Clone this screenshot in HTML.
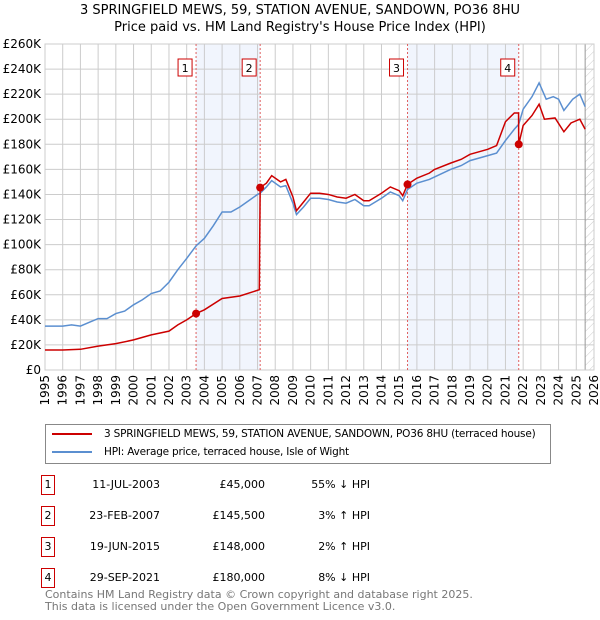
<!DOCTYPE html>
<html><head><meta charset="utf-8"><style>
body{margin:0;background:#fff;font-family:"DejaVu Sans","Liberation Sans",sans-serif;}
#wrap{position:relative;width:600px;height:620px;overflow:hidden;}
.t{position:absolute;font-size:12px;color:#000;white-space:nowrap;}
</style></head><body><div id="wrap">
<div class="t" style="left:0;width:600px;text-align:center;top:2px;font-size:13px;line-height:17px">3 SPRINGFIELD MEWS, 59, STATION AVENUE, SANDOWN, PO36 8HU<br>Price paid vs. HM Land Registry's House Price Index (HPI)</div>
<svg id="chart" width="600" height="420" style="position:absolute;left:0;top:0" font-family="DejaVu Sans, Liberation Sans, sans-serif" font-size="12"></svg>
<div style="position:absolute;left:45px;top:424px;width:504px;height:38px;border:1px solid #888;">
<div style="position:absolute;left:6px;top:3px;font-size:10.5px;white-space:nowrap;letter-spacing:-0.2px"><span style="display:inline-block;width:40px;height:2px;background:#cc0000;vertical-align:middle;margin-right:12px"></span>3 SPRINGFIELD MEWS, 59, STATION AVENUE, SANDOWN, PO36 8HU (terraced house)</div>
<div style="position:absolute;left:6px;top:21px;font-size:10.5px;white-space:nowrap;letter-spacing:-0.2px"><span style="display:inline-block;width:40px;height:2px;background:#5b8fd0;vertical-align:middle;margin-right:12px"></span>HPI: Average price, terraced house, Isle of Wight</div>
</div>
<div id="tbl"></div>
<div class="t" style="left:45px;top:589px;font-size:11px;line-height:12px;color:#777">Contains HM Land Registry data © Crown copyright and database right 2025.<br>This data is licensed under the Open Government Licence v3.0.</div>
</div>
<script>
const hpiYears=[1995,1995.5,1996,1996.5,1997,1997.5,1998,1998.5,1999,1999.5,2000,2000.5,2001,2001.5,2002,2002.5,2003,2003.53,2004,2004.5,2005,2005.5,2006,2006.5,2007,2007.15,2007.5,2007.8,2008.3,2008.6,2009.0,2009.2,2009.6,2010,2010.5,2011,2011.5,2012,2012.5,2013,2013.3,2014,2014.5,2015,2015.2,2015.47,2016,2016.7,2017,2017.9,2018.5,2019,2019.5,2020,2020.5,2021,2021.5,2021.75,2022,2022.5,2022.9,2023.3,2023.7,2024,2024.3,2024.8,2025.2,2025.5];
const hpiValues=[35,35,35,36,35,38,41,41,45,47,52,56,61,63,70,80,89,99,105,115,126,126,130,135,140,141,146,151,146,147,133,124,130,137,137,136,134,133,136,131,131,137,142,139,135,144,149,152,154,160,163,167,169,171,173,183,192,196,208,218,229,216,218,216,207,216,220,210];
const ppYears=[1995,1996,1997,1998,1999,2000,2001,2002,2002.5,2003,2003.53,2004,2005,2006,2007.1,2007.15,2007.5,2007.8,2008.3,2008.6,2009.0,2009.2,2009.6,2010,2010.5,2011,2011.5,2012,2012.5,2013,2013.3,2014,2014.5,2015,2015.2,2015.47,2016,2016.7,2017,2017.9,2018.5,2019,2019.5,2020,2020.5,2021,2021.5,2021.74,2021.75,2022,2022.5,2022.9,2023.2,2023.8,2024.3,2024.7,2025.2,2025.5];
const ppValues=[16,16,16.5,19,21,24,28,31,36,40,45,48,57,59,64,145.5,149,155,150,152,138,127,134,141,141,140,138,137,140,135,135,141,146,143,139,148,153,157,160,165,168,172,174,176,179,198,205,205,180,195,203,212,200,201,190,197,200,192];
const saleYears=[2003.53,2007.15,2015.47,2021.75];
const saleValues=[45,145.5,148,180];
const saleLabels=["1","2","3","4"];
const yTicks=[0,20,40,60,80,100,120,140,160,180,200,220,240,260];
const xTicks=[1995,1996,1997,1998,1999,2000,2001,2002,2003,2004,2005,2006,2007,2008,2009,2010,2011,2012,2013,2014,2015,2016,2017,2018,2019,2020,2021,2022,2023,2024,2025,2026];
const rows=[["1","11-JUL-2003","£45,000","55% ↓ HPI"],["2","23-FEB-2007","£145,500","3% ↑ HPI"],["3","19-JUN-2015","£148,000","2% ↑ HPI"],["4","29-SEP-2021","£180,000","8% ↓ HPI"]];
const L=45,R=594,T=44,B=370;
const x=v=>L+(v-1995)/(2026-1995)*(R-L);
const y=v=>B-v/260*(B-T);
const NS="http://www.w3.org/2000/svg";
const svg=document.getElementById('chart');
function mk(tag,attrs,parent){const e=document.createElementNS(NS,tag);for(const k in attrs)e.setAttribute(k,attrs[k]);(parent||svg).appendChild(e);return e;}
[[0,1],[2,3]].forEach(p=>{const r=mk('rect',{x:x(saleYears[p[0]]),y:T,width:x(saleYears[p[1]])-x(saleYears[p[0]]),height:B-T,fill:'#eef3fc',opacity:0.8});

});
const defs=mk('defs',{});const pat=mk('pattern',{id:'h',width:6,height:6,patternUnits:'userSpaceOnUse',patternTransform:'rotate(45)'},defs);mk('line',{x1:0,y1:0,x2:0,y2:6,stroke:'#ccc','stroke-width':1},pat);
const hz=mk('rect',{x:x(2025.5),y:T,width:R-x(2025.5),height:B-T,fill:'url(#h)'});


yTicks.forEach(v=>{const l=mk('line',{x1:L,x2:R,y1:y(v),y2:y(v),stroke:'#ccc'});


const t=mk('text',{x:L-4,y:y(v)+4,'text-anchor':'end'});t.textContent=v===0?'£0':'£'+v+'K';

});
xTicks.forEach(v=>{const l=mk('line',{x1:x(v),x2:x(v),y1:T,y2:B,stroke:'#ccc'});


const t=mk('text',{transform:`translate(${x(v)+4},${B+5}) rotate(-90)`,'text-anchor':'end'});t.textContent=v;

});
mk('line',{x1:x(2025.5),x2:x(2025.5),y1:T,y2:B,stroke:'#999'});
mk('rect',{x:L,y:T,width:R-L,height:B-T,fill:'none',stroke:'#ccc'});
saleYears.forEach((v,i)=>{const l=mk('line',{x1:x(v),x2:x(v),y1:T,y2:B,stroke:'#e06060','stroke-dasharray':'2,2'});


const g=mk('g',{});


mk('rect',{x:x(v)-18,y:59,width:14,height:17,fill:'#fff',stroke:'#cc0000'},g);
const t=mk('text',{x:x(v)-11,y:72,'text-anchor':'middle','font-size':11},g);t.textContent=saleLabels[i];});
const hp=mk('polyline',{points:hpiYears.map((v,i)=>x(v)+','+y(hpiValues[i])).join(' '),fill:'none',stroke:'#5b8fd0','stroke-width':1.5});


const pp=mk('polyline',{points:ppYears.map((v,i)=>x(v)+','+y(ppValues[i])).join(' '),fill:'none',stroke:'#cc0000','stroke-width':1.5});


saleYears.forEach((v,i)=>{const c=mk('circle',{cx:x(v),cy:y(saleValues[i]),r:4,fill:'#cc0000'});

});
const tbl=document.getElementById('tbl');
rows.forEach((r,i)=>{const top=475+i*31;
const d=document.createElement('div');


d.style.cssText=`position:absolute;left:0;top:${top}px;width:600px;height:20px;font-size:11px;`;
d.innerHTML=`<span style="position:absolute;left:41px;top:0;width:12px;height:18px;border:1px solid #cc0000;text-align:center;line-height:18px">${r[0]}</span><span style="position:absolute;right:440px;top:3px">${r[1]}</span><span style="position:absolute;right:335px;top:3px">${r[2]}</span><span style="position:absolute;right:230px;top:3px">${r[3]}</span>`;
tbl.appendChild(d);});
</script></body></html>
